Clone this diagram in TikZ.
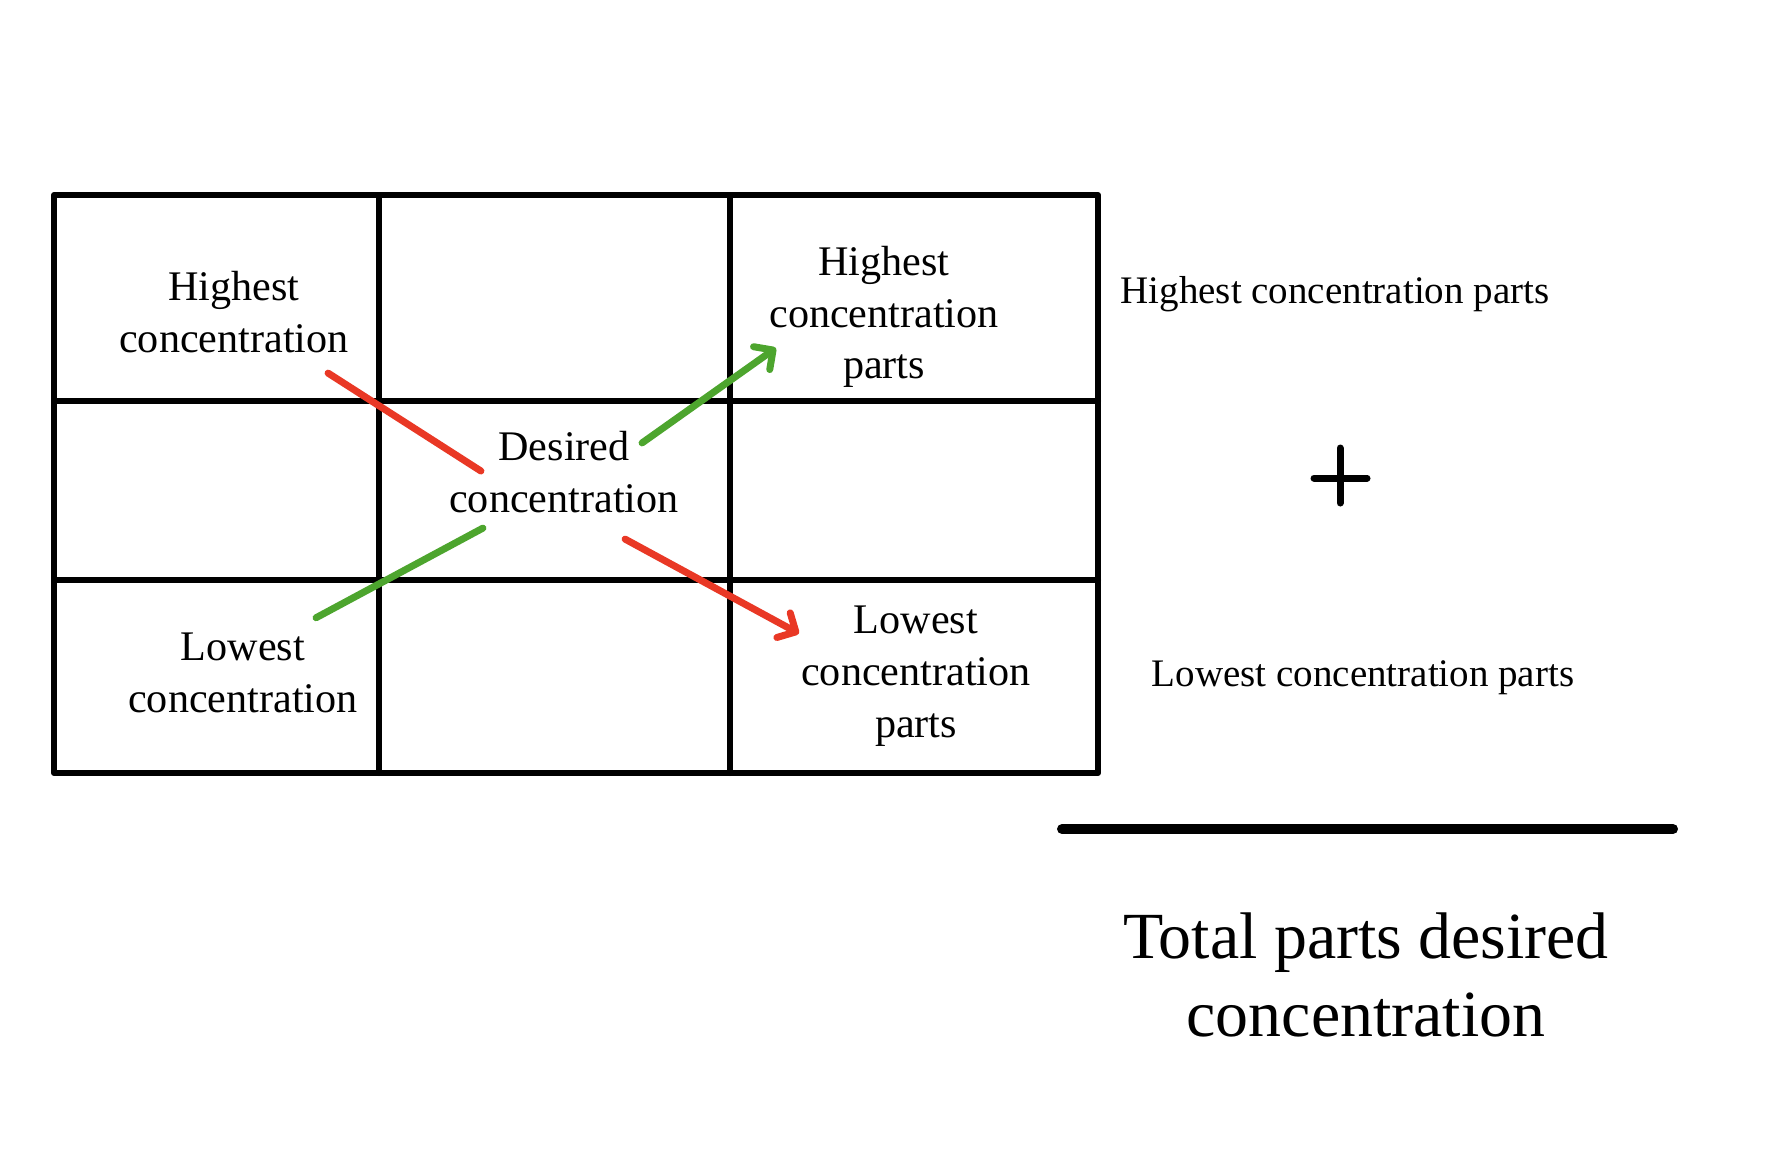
\documentclass[tikz,border=0pt]{standalone}
\usepackage{fontspec}
\setmainfont{Liberation Serif}
\usetikzlibrary{arrows.meta}
\definecolor{redline}{RGB}{233,56,37}
\definecolor{greenline}{RGB}{77,165,46}
\begin{document}
\begin{tikzpicture}[
  x=0.02cm, y=-0.02cm,
  every node/.style={inner sep=0pt, align=center},
  cell/.style={font=\fontsize{24}{29.5}\selectfont},
  side/.style={font=\fontsize{22.2}{26}\selectfont},
  grid/.style={line width=0.12cm, line join=round, line cap=round},
  link/.style={line width=0.14cm, line cap=round},
  arrow/.style={link, -{Straight Barb[length=2.8mm,width=5.6mm,round]}}
]
\useasboundingbox (0,0) rectangle (1791,1161);
% table
\draw[grid] (54,195) rectangle (1098,773);
\draw[grid] (379,195) -- (379,773);
\draw[grid] (730,195) -- (730,773);
\draw[grid] (54,401) -- (1098,401);
\draw[grid] (54,580) -- (1098,580);
% cells
\node[cell] (high) at (234,312) {Highest\\concentration};
\node[cell] (desired) at (564,472) {Desired\\concentration};
\node[cell] (low) at (243,673) {Lowest\\concentration};
\node[cell] (highparts) at (884,317) {Highest\\concentration\\parts};
\node[cell] (lowparts) at (916,676) {Lowest\\concentration\\parts};
% cross lines
\draw[link, redline] ([shift={(-21,20)}]high.south east) -- ([shift={(32,-1)}]desired.west);
\draw[arrow, redline] ([shift={(-54,26)}]desired.south east) -- ([shift={(-2,28)}]lowparts.north west);
\draw[link, greenline] ([shift={(-42,-15)}]low.north east) -- ([shift={(34,15)}]desired.south west);
\draw[arrow, greenline] ([shift={(-37,12)}]desired.north east) -- ([shift={(7,31)}]highparts.west);
% sum
\node[side] (sumhigh) at (1335,294) {Highest concentration parts};
\node[side] (sumlow) at (1363,678) {Lowest concentration parts};
\draw[link] (1314,478) -- (1367,478);
\draw[link] (1340,448) -- (1340,503);
\draw[line width=0.2cm, line cap=round] (1062,829) -- (1673,829);
\node[font=\fontsize{37.5}{44.8}\selectfont] (total) at (1366,975) {Total parts desired\\concentration};
\end{tikzpicture}
\end{document}
